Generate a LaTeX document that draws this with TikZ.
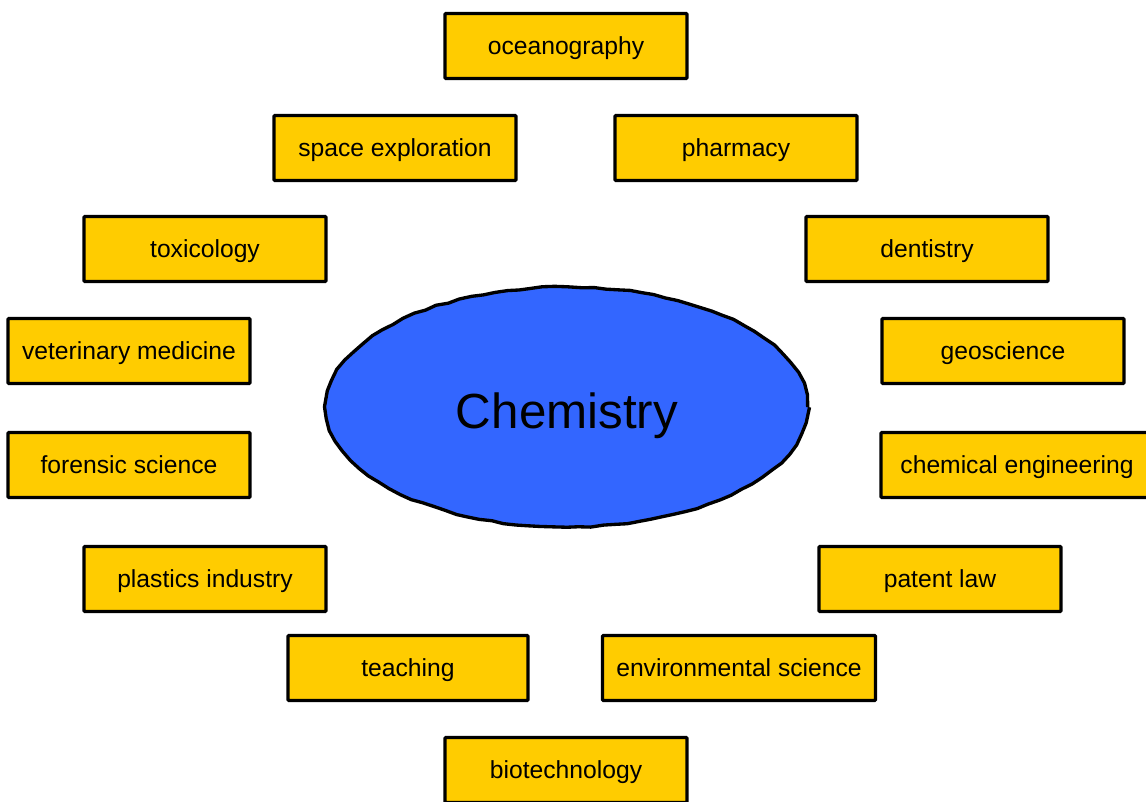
\documentclass[tikz,border=0pt]{standalone}
\usepackage{fontspec}
\setmainfont{Liberation Sans}
\usetikzlibrary{shapes.geometric,decorations.pathmorphing}

\definecolor{fieldgold}{HTML}{FFCC00}
\definecolor{chemblue}{HTML}{3366FF}

\tikzset{
	fieldbox/.style={draw, line width=2.3pt, fill=fieldgold, rounded corners=0.6pt,
		minimum height=48.75pt, inner sep=0pt, text height=16.6pt, text depth=3.7pt,
		font=\fontsize{18.5}{20}\selectfont},
	hub/.style={draw, ellipse, line width=2.5pt, fill=chemblue, inner sep=0pt,
		minimum width=361pt, minimum height=180pt, text height=40pt, text depth=7.4pt,
		decorate, decoration={random steps, segment length=9pt, amplitude=0.6pt},
		font=\fontsize{37}{40}\selectfont}
}

\begin{document}
\begin{tikzpicture}[x=0.75pt, y=-0.75pt]
		\useasboundingbox (0,0) rectangle (1146,802);
		\pgfmathsetseed{7}
		\node[hub] (chem) at (567, 407) {Chemistry};
		% fields around the centre: name/x/y/width/label
		\foreach \name/\x/\y/\w/\txt in {
			ocean/566/46/242/oceanography,
			space/395/148/242/space exploration,
			pharm/736/148/242/pharmacy,
			toxic/205/249/242/toxicology,
			dent/927/249/242/dentistry,
			vet/129/351/242/veterinary medicine,
			geo/1003/351/242/geoscience,
			foren/129/465/242/forensic science,
			chemeng/1017/465/272/chemical engineering,
			plast/205/579/242/plastics industry,
			patent/940/579/242/patent law,
			teach/408/668/240/teaching,
			envsci/739/668/273/environmental science,
			biotech/566/770/242/biotechnology}
		{
			\node[fieldbox, minimum width=0.75*\w pt] (\name) at (\x, \y) {\txt};
		}
	\end{tikzpicture}
\end{document}
